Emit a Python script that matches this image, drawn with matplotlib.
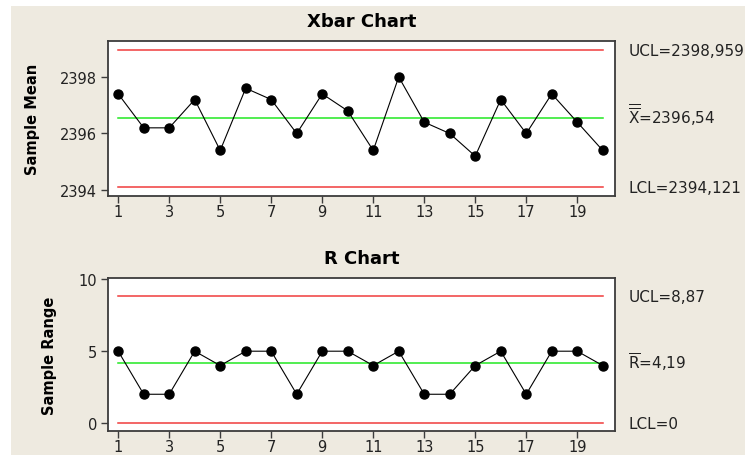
import numpy as np
import matplotlib
matplotlib.use('Agg')
import matplotlib.pyplot as plt
from matplotlib.patches import Rectangle

# Sample numbers and control chart data
samples = list(range(1, 21))
xbar = [2397.4, 2396.2, 2396.2, 2397.2, 2395.4, 2397.6, 2397.2, 2396.0, 2397.4, 2396.8,
        2395.4, 2398.0, 2396.4, 2396.0, 2395.2, 2397.2, 2396.0, 2397.4, 2396.4, 2395.4]
rng = [5, 2, 2, 5, 4, 5, 5, 2, 5, 5, 4, 5, 2, 2, 4, 5, 2, 5, 5, 4]

x_ucl, x_cl, x_lcl = 2398.959, 2396.54, 2394.121
r_ucl, r_cl, r_lcl = 8.87, 4.19, 0.0
x_labels = ['UCL=2398,959', r'$\overline{\overline{\mathrm{X}}}$=2396,54', 'LCL=2394,121']
r_labels = ['UCL=8,87', r'$\overline{\mathrm{R}}$=4,19', 'LCL=0']

bg = '#eeeae0'
red = '#f03c3c'
green = '#22e822'
spine = '#3c3c3c'

plt.rcParams['font.family'] = ['DejaVu Sans']
plt.rcParams['mathtext.fontset'] = 'dejavusans'
fig = plt.figure(figsize=(7.45, 4.56), dpi=100)
fig.patch.set_facecolor('white')
fig.patches.append(Rectangle((11/745, 0), 1, 1 - 7/456, transform=fig.transFigure,
                             facecolor=bg, edgecolor='none', zorder=-10))

W, H = 745, 456
def make_ax(l, t, r, b):
    return fig.add_axes([l/W, 1 - b/H, (r - l)/W, (b - t)/H])

ax1 = make_ax(108, 42, 615, 197)
ax2 = make_ax(108, 279, 615, 432)

def draw(ax, vals, lims, labels, ylim, yticks, title, ylabel):
    ax.set_facecolor('white')
    for v, c in zip(lims, [red, green, red]):
        ax.plot([samples[0], samples[-1]], [v, v], color=c, lw=1.1, zorder=1)
    ax.plot(samples, vals, color='black', lw=0.8, marker='o', ms=6.5, zorder=3)
    ax.set_xlim(0.6, 20.48)
    ax.set_ylim(*ylim)
    ax.set_xticks(range(1, 21, 2))
    ax.set_yticks(yticks)
    ax.tick_params(direction='out', length=5, width=1, color=spine,
                   labelsize=10.5, labelcolor='#222222', pad=3)
    ax.tick_params(axis='x', pad=1)
    for s in ax.spines.values():
        s.set_color(spine)
        s.set_linewidth(1.3)
    ax.set_title(title, fontsize=13, fontweight='bold', pad=11)
    ax.set_ylabel(ylabel, fontsize=10.5, fontweight='bold')
    for v, t in zip(lims, labels):
        ax.annotate(t, xy=(1, v), xycoords=('axes fraction', 'data'),
                    xytext=(9.5, -3.7), textcoords='offset points',
                    va='baseline', ha='left', fontsize=11, color='#222222',
                    annotation_clip=False)

draw(ax1, xbar, [x_ucl, x_cl, x_lcl], x_labels, (2393.79, 2399.27),
     [2394, 2396, 2398], 'Xbar Chart', 'Sample Mean')
draw(ax2, rng, [r_ucl, r_cl, r_lcl], r_labels, (-0.56, 10.1),
     [0, 5, 10], 'R Chart', 'Sample Range')
ax1.yaxis.set_label_coords(-0.135, 0.5)
ax2.yaxis.set_label_coords(-0.1, 0.5)

fig.savefig('out.png', dpi=100, facecolor=fig.get_facecolor())
